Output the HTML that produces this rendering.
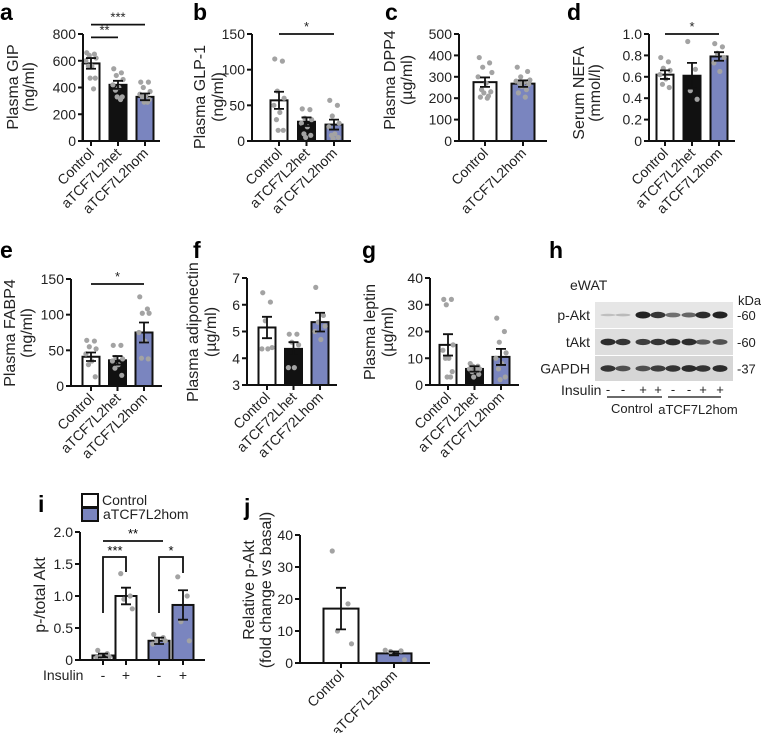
<!DOCTYPE html>
<html><head><meta charset="utf-8"><style>
html,body{margin:0;padding:0;background:#fff}
svg{display:block;font-family:"Liberation Sans",Arial,sans-serif}
</style></head><body>
<svg id="fig" width="761" height="733" viewBox="0 0 761 733" xmlns="http://www.w3.org/2000/svg"></svg>
<script>
// ---- data arrays ----
const catsA=["Control","aTCF7L2het","aTCF7L2hom"];
const meanA=[580,420,330], semA=[40,30,25];
const dotsA=[[660,650,640,620,600,560,560,470,470,390],[540,510,490,460,420,400,380,330,330,310],[440,440,400,370,350,340,330,310,290,290]];
const catsB=["Control","aTCF7L2het","aTCF7L2hom"];
const meanB=[57,27,23], semB=[12,6,7];
const dotsB=[[115,112,70,60,50,40,30,15,15],[45,44,32,30,25,20,10,8,5],[57,50,35,25,20,10,8,5,3]];
const catsC=["Control","aTCF7L2hom"];
const meanC=[275,268], semC=[22,15];
const dotsC=[[390,365,345,320,300,270,240,230,225,210,205,200],[345,325,300,285,280,275,270,265,255,240,225,205]];
const catsD=["Control","aTCF7L2het","aTCF7L2hom"];
const meanD=[0.62,0.61,0.79], semD=[0.04,0.12,0.04];
const dotsD=[[0.78,0.74,0.68,0.66,0.62,0.58,0.53,0.5],[0.93,0.67,0.47,0.39],[0.91,0.88,0.82,0.78,0.73,0.65]];
const catsE=["Control","aTCF7L2het","aTCF7L2hom"];
const meanE=[41,36,75], semE=[6,6,14];
const dotsE=[[64,63,55,52,45,35,30,13],[57,57,40,38,35,30,25,15],[125,108,102,102,75,63,39,38]];
const catsF=["Control","aTCF72Lhet","aTCF72Lhom"];
const meanF=[5.15,4.35,5.35], semF=[0.4,0.25,0.35];
const dotsF=[[6.45,6.1,5.4,4.4,4.35,4.35],[4.9,4.9,4.6,4.5,3.65,3.65],[6.65,5.6,5.35,5.2,5.0,4.7]];
const catsG=["Control","aTCF7L2het","aTCF7L2hom"];
const meanG=[15,6,10.5], semG=[4,1,3];
const dotsG=[[32,32,30,15,13,10,10,5,3,3],[8,7,7,6,6,5.5,5,4,3],[25,20,16,12,10,8,6,3,2]];
const insulinI=["-","+","-","+"];
const meanI=[0.07,1.0,0.3,0.86], semI=[0.03,0.13,0.05,0.23];
const dotsI=[[0.15,0.1,0.06,0.05,0.04],[1.35,1.0,0.95,0.8],[0.4,0.35,0.3,0.3,0.25],[1.3,1.0,0.6,0.3]];
const catsJ=["Control","aTCF7L2hom"];
const meanJ=[17,3], semJ=[6.5,0.6];
const dotsJ=[[35,18.5,10,6],[4,3.8,3.6,1]];
const pAktBands=[0.1,0.12,0.9,0.8,0.5,0.55,0.85,0.9];
const tAktBands=[0.85,0.8,0.75,0.8,0.85,0.85,0.6,0.65];
const gapdhBands=[0.8,0.65,0.65,0.75,0.8,0.85,0.8,0.85];
const insulinH=["-","-","+","+","-","-","+","+"];

const NS="http://www.w3.org/2000/svg";
const svg=document.getElementById('fig');
const WHITE="#ffffff",BLACK="#111111",BLUE="#7a85bf",DOT="#a3a3a3";
function mk(tag,attrs,parent){const e=document.createElementNS(NS,tag);for(const k in attrs)e.setAttribute(k,attrs[k]);(parent||svg).appendChild(e);return e;}
function txt(s,attrs,parent){const e=mk('text',attrs,parent);e.textContent=s;return e;}
const jit=[-5,4,-2,6,-6,1,-3,5,-1,3,-4,2];

function panel(c){
  const g=mk('g',{});
  
  
  const y=v=>c.yBot-(v-c.min)/(c.max-c.min)*(c.yBot-c.yTop);
  const x=i=>c.centers?c.centers[i]:c.x0+c.first+i*c.step;
  c.means.forEach((m,i)=>{
    const cx=x(i),w=c.bw;
    const b=mk('rect',{x:cx-w/2,y:y(m),width:w,height:c.yBot-y(m),fill:c.fills[i],stroke:BLACK,'stroke-width':2},g);
    
    
    c.dots[i].forEach((d,k)=>{
      const p=mk('circle',{cx:cx+jit[k%jit.length]*(w/20),cy:y(d),r:2.6,fill:DOT},g);
      
      
    });
    const e=mk('path',{d:`M${cx},${y(m-c.sems[i])}V${y(m+c.sems[i])}M${cx-5},${y(m+c.sems[i])}h10M${cx-5},${y(m-c.sems[i])}h10`,stroke:BLACK,'stroke-width':1.8,fill:'none'},g);
    
    
  });
  const ax=mk('path',{d:`M${c.x0},${c.yTop}V${c.yBot}H${c.xEnd}`,stroke:BLACK,'stroke-width':2,fill:'none'},g);
  
  
  c.ticks.forEach((t,k)=>{
    mk('line',{x1:c.x0-5,x2:c.x0,y1:y(t),y2:y(t),stroke:BLACK,'stroke-width':2},g);
    const l=txt(c.tickLabels[k],{x:c.x0-7,y:y(t)+5,'text-anchor':'end','font-size':14,fill:'#222'},g);
    
    
  });
  c.means.forEach((m,i)=>{mk('line',{x1:x(i),x2:x(i),y1:c.yBot,y2:c.yBot+5,stroke:BLACK,'stroke-width':2},g);});
  if(c.cats){c.cats.forEach((s,i)=>{
    const cx=x(i)+4,cy=c.yBot+13;
    const l=txt(s,{x:cx,y:cy,'text-anchor':'end','font-size':14,fill:'#222',transform:`rotate(-45 ${cx} ${cy})`},g);
    
    
  });}
  c.titles.forEach((t,k)=>{
    const tx=c.titleX[k],ty=c.titleY;
    const l=txt(t,{x:tx,y:ty,'text-anchor':'middle','font-size':16,fill:'#222',transform:`rotate(-90 ${tx} ${ty})`},g);
    
    
  });
  const L=txt(c.letter,{x:c.lx,y:c.ly,'font-size':23,'font-weight':'bold',fill:'#000'},g);
  
  
  (c.sig||[]).forEach(s=>{
    const yy=y(s.v);
    mk('line',{x1:x(s.a),x2:x(s.b),y1:yy,y2:yy,stroke:BLACK,'stroke-width':1.8},g);
    const l=txt(s.t,{x:(x(s.a)+x(s.b))/2,y:yy-3,'text-anchor':'middle','font-size':13,fill:'#222'},g);
    
    
  });
  return {g,y,x};
}
const f3=[WHITE,BLACK,BLUE], f2=[WHITE,BLUE];
panel({name:'panel-a',letter:'a',lx:0,ly:20,x0:83,xEnd:160,yTop:34,yBot:141,min:0,max:800,first:8,step:27,bw:17,means:meanA,sems:semA,dots:dotsA,fills:f3,cats:catsA,ticks:[0,200,400,600,800],tickLabels:["0","200","400","600","800"],titles:["Plasma GIP","(ng/ml)"],titleX:[18,34],titleY:87,sig:[{a:0,b:1,v:775,t:"**"},{a:0,b:2,v:870,t:"***"}]});
panel({name:'panel-b',letter:'b',lx:193,ly:20,x0:252,xEnd:351,yTop:34,yBot:141,min:0,max:150,first:27,step:27.5,bw:17,means:meanB,sems:semB,dots:dotsB,fills:f3,cats:catsB,ticks:[0,50,100,150],tickLabels:["0","50","100","150"],titles:["Plasma GLP-1","(ng/ml)"],titleX:[205,223],titleY:97,sig:[{a:0,b:2,v:150,t:"*"}]});
panel({name:'panel-c',letter:'c',lx:385,ly:20,x0:459,xEnd:547,yTop:34,yBot:141,min:0,max:500,first:26,step:38,bw:23,means:meanC,sems:semC,dots:dotsC,fills:f2,cats:catsC,ticks:[0,100,200,300,400,500],tickLabels:["0","100","200","300","400","500"],titles:["Plasma DPP4","(µg/ml)"],titleX:[395,412],titleY:80});
panel({name:'panel-d',letter:'d',lx:567,ly:20,x0:649,xEnd:735,yTop:34,yBot:141,min:0,max:1.0,first:16,step:27,bw:17,means:meanD,sems:semD,dots:dotsD,fills:f3,cats:catsD,ticks:[0,0.2,0.4,0.6,0.8,1.0],tickLabels:["0","0.2","0.4","0.6","0.8","1.0"],titles:["Serum NEFA","(mmol/l)"],titleX:[584,600],titleY:93,sig:[{a:0,b:2,v:1.0,t:"*"}]});
panel({name:'panel-e',letter:'e',lx:0,ly:258,x0:71,xEnd:162,yTop:279,yBot:386,min:0,max:150,first:20,step:26.5,bw:17,means:meanE,sems:semE,dots:dotsE,fills:f3,cats:catsE,ticks:[0,50,100,150],tickLabels:["0","50","100","150"],titles:["Plasma FABP4","(ng/ml)"],titleX:[15,32],titleY:333,sig:[{a:0,b:2,v:143,t:"*"}]});
panel({name:'panel-f',letter:'f',lx:193,ly:258,x0:247,xEnd:337,yTop:278,yBot:385,min:3,max:7,first:20,step:26.5,bw:17,means:meanF,sems:semF,dots:dotsF,fills:f3,cats:catsF,ticks:[3,4,5,6,7],tickLabels:["3","4","5","6","7"],titles:["Plasma adiponectin","(µg/ml)"],titleX:[198,216],titleY:332});
panel({name:'panel-g',letter:'g',lx:362,ly:258,x0:430,xEnd:519,yTop:278,yBot:385,min:0,max:40,first:18,step:26.5,bw:17,means:meanG,sems:semG,dots:dotsG,fills:f3,cats:catsG,ticks:[0,10,20,30,40],tickLabels:["0","10","20","30","40"],titles:["Plasma leptin","(µg/ml)"],titleX:[375,393],titleY:332});
const pi=panel({name:'panel-i',letter:'i',lx:38,ly:512,x0:80,xEnd:205,yTop:532,yBot:660,min:0,max:2.0,centers:[103,126,159,183],bw:21,means:meanI,sems:semI,dots:dotsI,fills:[WHITE,WHITE,BLUE,BLUE],ticks:[0,0.5,1.0,1.5,2.0],tickLabels:["0","0.5","1.0","1.5","2.0"],titles:["p-/total Akt"],titleX:[45],titleY:595});
panel({name:'panel-j',letter:'j',lx:244,ly:515,x0:300,xEnd:430,yTop:535,yBot:663,min:0,max:40,first:41,step:53,bw:35,means:meanJ,sems:semJ,dots:dotsJ,fills:f2,cats:catsJ,ticks:[0,10,20,30,40],tickLabels:["0","10","20","30","40"],titles:["Relative p-Akt","(fold change vs basal)"],titleX:[254,271],titleY:590});

// panel i extras
(function(){
  const g=mk('g',{});
  
  
  const ins=txt("Insulin",{x:43,y:680,'font-size':14,fill:'#222'},g);
  
  
  insulinI.forEach((s,i)=>{const t=txt(s,{x:pi.x(i),y:680,'text-anchor':'middle','font-size':14,fill:'#222'},g);
    
    });
  mk('line',{x1:103,x2:163,y1:541,y2:541,stroke:BLACK,'stroke-width':1.8},g);
  txt("**",{x:133,y:538,'text-anchor':'middle','font-size':13},g);
  mk('path',{d:`M103,613V557H126V572`,stroke:BLACK,'stroke-width':1.8,fill:'none'},g);
  txt("***",{x:115,y:555,'text-anchor':'middle','font-size':13},g);
  mk('path',{d:`M159,613V557H183V573`,stroke:BLACK,'stroke-width':1.8,fill:'none'},g);
  txt("*",{x:171,y:555,'text-anchor':'middle','font-size':13},g);
  const l1=mk('rect',{x:82,y:494,width:16,height:13,fill:WHITE,stroke:BLACK,'stroke-width':2},g);
  
  
  const l2=mk('rect',{x:82,y:508,width:16,height:13,fill:BLUE,stroke:BLACK,'stroke-width':2},g);
  
  
  const t1=txt("Control",{x:102,y:505,'font-size':14,fill:'#222'},g);
  
  
  const t2=txt("aTCF7L2hom",{x:103,y:519,'font-size':14,fill:'#222'},g);
  
  
})();

// panel h: western blot
(function(){
  const g=mk('g',{});
  
  
  const L=txt('h',{x:549,y:258,'font-size':23,'font-weight':'bold'},g);
  
  
  const ew=txt('eWAT',{x:570,y:290,'font-size':14,fill:'#222'},g);
  
  
  txt('kDa',{x:738,y:305,'font-size':13,fill:'#222'},g);
  const lanes=[608,623,643,658,673,689,703,720];
  const rows=[{n:'p-Akt',y0:302,y1:328,b:pAktBands,k:'-60',bg:'#e6e6e6'},{n:'tAkt',y0:329,y1:355,b:tAktBands,k:'-60',bg:'#dedede'},{n:'GAPDH',y0:356,y1:381,b:gapdhBands,k:'-37',bg:'#d6d6d6'}];
  rows.forEach(r=>{
    const bx=mk('rect',{x:595,y:r.y0,width:138,height:r.y1-r.y0,fill:r.bg},g);
    
    
    const cy=(r.y0+r.y1)/2;
    r.b.forEach((v,i)=>{
      const e=mk('ellipse',{cx:lanes[i],cy:cy,rx:7.5,ry:1+2.8*v,fill:'#222','fill-opacity':Math.min(1,0.1+v)},g);
      
      
    });
    const t=txt(r.n,{x:590,y:cy+5,'text-anchor':'end','font-size':14,fill:'#222'},g);
    
    
    txt(r.k,{x:737,y:cy+5,'font-size':13,fill:'#222'},g);
  });
  const ins=txt('Insulin',{x:561,y:395,'font-size':14,fill:'#222'},g);
  
  
  insulinH.forEach((s,i)=>{txt(s,{x:lanes[i],y:394,'text-anchor':'middle','font-size':13,fill:'#222'},g);});
  mk('line',{x1:607,x2:662,y1:397,y2:397,stroke:BLACK,'stroke-width':1.2},g);
  mk('line',{x1:668,x2:721,y1:397,y2:397,stroke:BLACK,'stroke-width':1.2},g);
  const c1=txt('Control',{x:632,y:413,'text-anchor':'middle','font-size':13,fill:'#222'},g);
  
  
  const c2=txt('aTCF7L2hom',{x:698,y:414,'text-anchor':'middle','font-size':13,fill:'#222'},g);
  
  
})();
</script>
</body></html>
